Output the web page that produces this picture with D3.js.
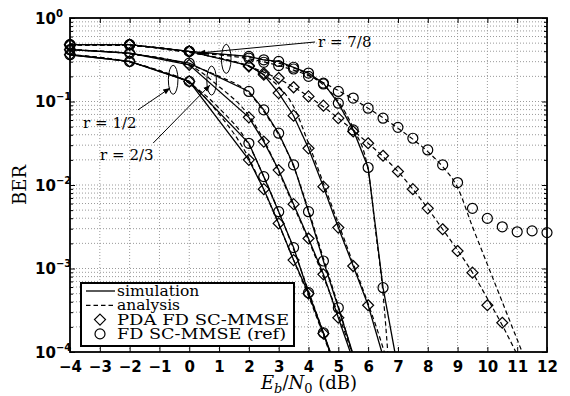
<!DOCTYPE html>
<html>
<head>
<meta charset="utf-8">
<script src="https://cdn.jsdelivr.net/npm/d3@7"></script>
<style>
  body { margin: 0; background: #fff; }
  svg { display: block; }
  .tick text { font-family: "DejaVu Sans", sans-serif; font-weight: bold; font-size: 15px; fill: #000; }
  .serif { font-family: "DejaVu Serif", serif; fill: #000; }
</style>
</head>
<body>
<div id="chart"></div>
<script>
// axis ticks
const snrTicks = [-4, -3, -2, -1, 0, 1, 2, 3, 4, 5, 6, 7, 8, 9, 10, 11, 12];
const berExps = [0, -1, -2, -3, -4];
const minorMult = [2, 3, 4, 5, 6, 7, 8, 9];

// simulation, r = 1/2
const snrR12 = [-4, -2, 0, 2, 2.5, 3, 3.5, 4, 4.5, 5];
const berR12Ref = [0.363, 0.302, 0.174, 0.0316, 0.0126, 0.00479, 0.00178, 0.000513, 0.00017, 5.4e-5];
const berR12Pda = [0.363, 0.302, 0.174, 0.0200, 0.00891, 0.00347, 0.00126, 0.000501, 0.000166, 5.2e-5];

// simulation, r = 2/3
const snrR23 = [-4, -2, 0, 2, 2.5, 3, 3.5, 4, 4.5, 5, 5.5];
const berR23Ref = [0.417, 0.380, 0.288, 0.132, 0.0794, 0.0417, 0.0174, 0.00479, 0.00123, 0.000339, 9.3e-5];
const berR23Pda = [0.417, 0.380, 0.275, 0.0646, 0.0331, 0.0151, 0.00589, 0.00229, 0.000851, 0.000257, 7.9e-5];

// simulation, r = 7/8 (solid curves)
const snrR78aRef = [-4, -2, 0, 2, 2.5, 3, 3.5, 4, 4.5, 5, 5.5, 6, 6.5, 7];
const berR78aRef = [0.479, 0.479, 0.398, 0.347, 0.316, 0.302, 0.257, 0.219, 0.166, 0.0955, 0.0457, 0.0162, 0.000589, 6.3e-5];
const snrR78aPda = [-4, -2, 0, 2, 2.5, 3, 3.5, 4, 4.5, 5, 5.5, 6, 6.5];
const berR78aPda = [0.479, 0.479, 0.398, 0.269, 0.209, 0.126, 0.0676, 0.0275, 0.00955, 0.00309, 0.00107, 0.000363, 8.9e-5];

// simulation, r = 7/8 (markers only)
const snrR78bRef = [-4, -2, 0, 2, 2.5, 3, 3.5, 4, 4.5, 5, 5.5, 6, 6.5, 7, 7.5, 8, 8.5, 9, 9.5, 10, 10.5, 11, 11.5, 12];
const berR78bRef = [0.479, 0.479, 0.398, 0.331, 0.295, 0.269, 0.245, 0.200, 0.162, 0.132, 0.110, 0.0832, 0.0631, 0.0490, 0.0363, 0.0263, 0.0174, 0.0107, 0.00525, 0.00398, 0.00316, 0.00275, 0.00282, 0.00269];
const snrR78bPda = [-4, -2, 0, 2, 2.5, 3, 3.5, 4, 4.5, 5, 5.5, 6, 6.5, 7, 7.5, 8, 8.5, 9, 9.5, 10, 10.5];
const berR78bPda = [0.479, 0.479, 0.398, 0.263, 0.219, 0.191, 0.148, 0.115, 0.0891, 0.0631, 0.0437, 0.0316, 0.0224, 0.0145, 0.00891, 0.00525, 0.00295, 0.00162, 0.000891, 0.000363, 0.000224];

// analysis (dashed)
const snrAnaR12 = [-4, -2, -1, 0, 1, 2, 2.5, 3, 3.5, 4, 4.5, 5];
const anaR12Ref = [0.363, 0.295, 0.234, 0.166, 0.0832, 0.0302, 0.0126, 0.00479, 0.0017, 0.000537, 0.00017, 5e-5];
const anaR12Pda = [0.363, 0.295, 0.234, 0.166, 0.0708, 0.0209, 0.00871, 0.00339, 0.00126, 0.000468, 0.000158, 5e-5];
const snrAnaR23 = [-4, -2, 0, 1, 2, 2.5, 3, 3.5, 4, 4.5, 5, 5.5];
const anaR23Ref = [0.417, 0.372, 0.275, 0.200, 0.126, 0.0759, 0.0398, 0.0166, 0.00501, 0.00132, 0.000355, 8.9e-5];
const anaR23Pda = [0.417, 0.372, 0.269, 0.151, 0.0676, 0.0347, 0.0145, 0.00562, 0.00219, 0.000794, 0.000282, 8.9e-5];
const snrAnaR78aRef = [-4, -2, 0, 2, 3, 4, 4.5, 5, 5.5, 6, 6.25, 6.5, 6.7];
const anaR78aRef = [0.479, 0.468, 0.389, 0.339, 0.288, 0.209, 0.158, 0.1, 0.0479, 0.0151, 0.00282, 0.000501, 6.3e-5];
const snrAnaR78aPda = [-4, -2, 0, 1, 2, 2.5, 3, 3.5, 4, 4.5, 5, 5.5, 6, 6.5, 7];
const anaR78aPda = [0.479, 0.468, 0.389, 0.331, 0.263, 0.209, 0.151, 0.0871, 0.0316, 0.0105, 0.00347, 0.00115, 0.00038, 0.000112, 2.5e-5];
const snrAnaR78bRef = [-4, -2, 0, 2, 3, 4, 5, 6, 7, 8, 8.5, 9, 9.5, 10, 10.5, 11, 11.5];
const anaR78bRef = [0.479, 0.468, 0.389, 0.324, 0.269, 0.204, 0.135, 0.0832, 0.0479, 0.0251, 0.0166, 0.00933, 0.00316, 0.00112, 0.000398, 0.000141, 5e-5];
const snrAnaR78bPda = [-4, -2, 0, 2, 3, 4, 5, 6, 6.5, 7, 7.5, 8, 8.5, 9, 9.5, 10, 10.5, 11, 11.5];
const anaR78bPda = [0.479, 0.468, 0.389, 0.263, 0.186, 0.115, 0.0631, 0.0316, 0.0219, 0.0145, 0.00891, 0.00525, 0.00295, 0.00166, 0.000891, 0.000437, 0.000209, 9.3e-5, 4e-5];

const zip = (a, b) => a.map((v, i) => [v, b[i]]);

const simSeries = [
  { pts: zip(snrR12, berR12Ref), mark: "circle", line: true },
  { pts: zip(snrR12, berR12Pda), mark: "diamond", line: true },
  { pts: zip(snrR23, berR23Ref), mark: "circle", line: true },
  { pts: zip(snrR23, berR23Pda), mark: "diamond", line: true },
  { pts: zip(snrR78aRef, berR78aRef), mark: "circle", line: true },
  { pts: zip(snrR78aPda, berR78aPda), mark: "diamond", line: true },
  { pts: zip(snrR78bRef, berR78bRef), mark: "circle", line: false },
  { pts: zip(snrR78bPda, berR78bPda), mark: "diamond", line: false }
];
const anaSeries = [
  zip(snrAnaR12, anaR12Ref), zip(snrAnaR12, anaR12Pda),
  zip(snrAnaR23, anaR23Ref), zip(snrAnaR23, anaR23Pda),
  zip(snrAnaR78aRef, anaR78aRef), zip(snrAnaR78aPda, anaR78aPda),
  zip(snrAnaR78bRef, anaR78bRef), zip(snrAnaR78bPda, anaR78bPda)
];

const W = 570, H = 396;
const margin = { top: 18, right: 23, bottom: 44, left: 70 };
const x0 = margin.left, x1 = W - margin.right, y0 = margin.top, y1 = H - margin.bottom;

const x = d3.scaleLinear().domain([-4, 12]).range([x0, x1]);
const y = d3.scaleLog().domain([1e-4, 1]).range([y1, y0]);

const svg = d3.select("#chart").append("svg")
  .attr("width", W)
  .attr("height", H);

svg.append("clipPath").attr("id", "clip")
  .append("rect")
  .attr("x", x0).attr("y", y0)
  .attr("width", x1 - x0).attr("height", y1 - y0);

// grid
const yGridVals = [];
berExps.forEach(e => {
  yGridVals.push(Math.pow(10, e));
  if (e < 0) minorMult.forEach(m => yGridVals.push(m * Math.pow(10, e)));
});
const grid = svg.append("g")
  .attr("stroke", "#9a9a9a")
  .attr("stroke-width", 1)
  .attr("stroke-dasharray", "1,2");
grid.selectAll("line.gx")
  .data(snrTicks.slice(1, -1))
  .enter().append("line")
  .attr("x1", d => x(d)).attr("x2", d => x(d))
  .attr("y1", y0).attr("y2", y1);
grid.selectAll("line.gy")
  .data(yGridVals.filter(v => v > 1e-4 && v < 1))
  .enter().append("line")
  .attr("x1", x0).attr("x2", x1)
  .attr("y1", d => y(d)).attr("y2", d => y(d));

// Add X axis (inward ticks, MATLAB style)
svg.append("g")
  .attr("transform", "translate(0," + y1 + ")")
  .call(d3.axisBottom(x).tickValues(snrTicks).tickSizeInner(-5).tickSizeOuter(0).tickPadding(9).tickFormat(d3.format("d")))
  .call(g => g.select(".domain").remove());
svg.append("g")
  .attr("transform", "translate(0," + y0 + ")")
  .call(d3.axisTop(x).tickValues(snrTicks).tickSizeInner(-5).tickSizeOuter(0).tickFormat(""))
  .call(g => g.select(".domain").remove());

// Add Y axis
const majors = berExps.map(e => Math.pow(10, e));
const minors = yGridVals.filter(v => majors.indexOf(v) < 0);
[[d3.axisLeft, x0], [d3.axisRight, x1]].forEach(([ax, pos]) => {
  svg.append("g")
    .attr("transform", "translate(" + pos + ",0)")
    .call(ax(y).tickValues(majors).tickSizeInner(-5).tickSizeOuter(0).tickFormat(""))
    .call(g => g.select(".domain").remove());
  svg.append("g")
    .attr("transform", "translate(" + pos + ",0)")
    .call(ax(y).tickValues(minors).tickSizeInner(-3).tickSizeOuter(0).tickFormat(""))
    .call(g => g.select(".domain").remove());
});

// y tick labels 10^k
const yLab = svg.append("g")
  .attr("font-family", "DejaVu Sans, sans-serif")
  .attr("font-weight", "bold");
berExps.forEach(e => {
  const t = yLab.append("text")
    .attr("x", 35)
    .attr("y", y(Math.pow(10, e)) + 5.5)
    .attr("font-size", 15);
  t.append("tspan").text("10");
  t.append("tspan").attr("dy", -7).attr("font-size", 10).text(e === 0 ? "0" : "\u2212" + (-e));
});

// axis labels
svg.append("text")
  .attr("class", "serif")
  .attr("transform", "translate(26," + ((y0 + y1) / 2) + ") rotate(-90)")
  .style("text-anchor", "middle")
  .attr("font-size", 18)
  .text("BER");

const xl = svg.append("text")
  .attr("class", "serif")
  .attr("x", (x0 + x1) / 2 + 0.5)
  .attr("y", 389)
  .style("text-anchor", "middle")
  .attr("font-size", 18);
xl.append("tspan").attr("font-style", "italic").text("E");
xl.append("tspan").attr("font-size", 13).attr("dy", 4).attr("font-style", "italic").text("b");
xl.append("tspan").attr("dy", -4).text("/");
xl.append("tspan").attr("font-style", "italic").text("N");
xl.append("tspan").attr("font-size", 13).attr("dy", 4).text("0");
xl.append("tspan").attr("dy", -4).text(" (dB)");

// curves
const plot = svg.append("g").attr("clip-path", "url(#clip)");
const simLine = d3.line().x(d => x(d[0])).y(d => y(d[1]));
const anaLine = d3.line().x(d => x(d[0])).y(d => y(d[1])).curve(d3.curveMonotoneX);

plot.selectAll("path.ana")
  .data(anaSeries)
  .enter().append("path")
  .attr("d", anaLine)
  .attr("fill", "none")
  .attr("stroke", "#000")
  .attr("stroke-width", 1.2)
  .attr("stroke-dasharray", "4.5,3");

plot.selectAll("path.sim")
  .data(simSeries.filter(s => s.line))
  .enter().append("path")
  .attr("d", s => simLine(s.pts))
  .attr("fill", "none")
  .attr("stroke", "#000")
  .attr("stroke-width", 1.3);

// markers (not clipped, like MATLAB; points under 1e-4 are off the axes)
const diamond = h => "M0," + (-h) + "L" + h + ",0L0," + h + "L" + (-h) + ",0Z";
const marks = svg.append("g").attr("fill", "none").attr("stroke", "#000").attr("stroke-width", 1.2);
simSeries.forEach(s => {
  const pts = s.pts.filter(d => d[1] >= 1e-4);
  if (s.mark === "circle") {
    marks.selectAll(null).data(pts).enter().append("circle")
      .attr("cx", d => x(d[0])).attr("cy", d => y(d[1])).attr("r", 5);
  } else {
    marks.selectAll(null).data(pts).enter().append("path")
      .attr("transform", d => "translate(" + x(d[0]) + "," + y(d[1]) + ")")
      .attr("d", diamond(5.5));
  }
});

// rate annotations: ellipses + arrows
const defs = svg.append("defs");
defs.append("marker")
  .attr("id", "arrow")
  .attr("viewBox", "0 0 10 10")
  .attr("refX", 10).attr("refY", 5)
  .attr("markerWidth", 7).attr("markerHeight", 7)
  .attr("markerUnits", "userSpaceOnUse")
  .attr("orient", "auto-start-reverse")
  .append("path").attr("d", "M0,1L10,5L0,9Z").attr("fill", "#000");

const ann = svg.append("g").attr("stroke", "#000").attr("fill", "none").attr("stroke-width", 1);
const ellipses = [
  { snr: -0.54, ber: 0.182 },
  { snr: 0.75, ber: 0.178 },
  { snr: 1.24, ber: 0.324 }
];
ann.selectAll("ellipse").data(ellipses).enter().append("ellipse")
  .attr("cx", d => x(d.snr)).attr("cy", d => y(d.ber))
  .attr("rx", 4.8).attr("ry", 14.5);

const arrows = [
  { from: [-1.72, 0.0794], to: [-0.64, 0.145] },
  { from: [-1.21, 0.0318], to: [0.70, 0.158] },
  { from: [4.22, 0.516], to: [0.30, 0.380] }
];
ann.selectAll("line").data(arrows).enter().append("line")
  .attr("x1", d => x(d.from[0])).attr("y1", d => y(d.from[1]))
  .attr("x2", d => x(d.to[0])).attr("y2", d => y(d.to[1]))
  .attr("marker-end", "url(#arrow)");

const rateLabels = [
  { t: "r = 1/2", snr: -3.56, ber: 0.0482 },
  { t: "r = 2/3", snr: -2.99, ber: 0.0200 },
  { t: "r = 7/8", snr: 4.32, ber: 0.450 }
];
svg.selectAll("text.rate").data(rateLabels).enter().append("text")
  .attr("class", "serif")
  .attr("x", d => x(d.snr)).attr("y", d => y(d.ber))
  .attr("font-size", 15)
  .text(d => d.t);

// legend
const lg = svg.append("g");
lg.append("rect")
  .attr("x", 81).attr("y", 283).attr("width", 213).attr("height", 63)
  .attr("fill", "#fff").attr("stroke", "#000").attr("stroke-width", 2);
const legendItems = [
  { t: "simulation", kind: "solid", len: null },
  { t: "analysis", kind: "dash", len: null },
  { t: "PDA FD SC-MMSE", kind: "diamond", len: 172 },
  { t: "FD SC-MMSE (ref)", kind: "circle", len: 169 }
];
legendItems.forEach((it, i) => {
  const cy = 291 + i * 14.3;
  if (it.kind === "solid" || it.kind === "dash") {
    lg.append("line").attr("x1", 86).attr("x2", 115).attr("y1", cy).attr("y2", cy)
      .attr("stroke", "#000").attr("stroke-width", 1.3)
      .attr("stroke-dasharray", it.kind === "dash" ? "4.5,3" : null);
  } else if (it.kind === "circle") {
    lg.append("circle").attr("cx", 100).attr("cy", cy).attr("r", 5)
      .attr("fill", "none").attr("stroke", "#000").attr("stroke-width", 1.2);
  } else {
    lg.append("path").attr("transform", "translate(100," + cy + ")").attr("d", diamond(5.5))
      .attr("fill", "none").attr("stroke", "#000").attr("stroke-width", 1.2);
  }
  const tx = lg.append("text").attr("class", "serif")
    .attr("x", 117).attr("y", cy + 5)
    .attr("font-size", 15.5)
    .text(it.t);
  if (it.len) tx.attr("textLength", it.len).attr("lengthAdjust", "spacingAndGlyphs");
});

// plot box
svg.append("rect")
  .attr("x", x0).attr("y", y0).attr("width", x1 - x0).attr("height", y1 - y0)
  .attr("fill", "none").attr("stroke", "#000").attr("stroke-width", 1.8);
</script>
</body>
</html>
